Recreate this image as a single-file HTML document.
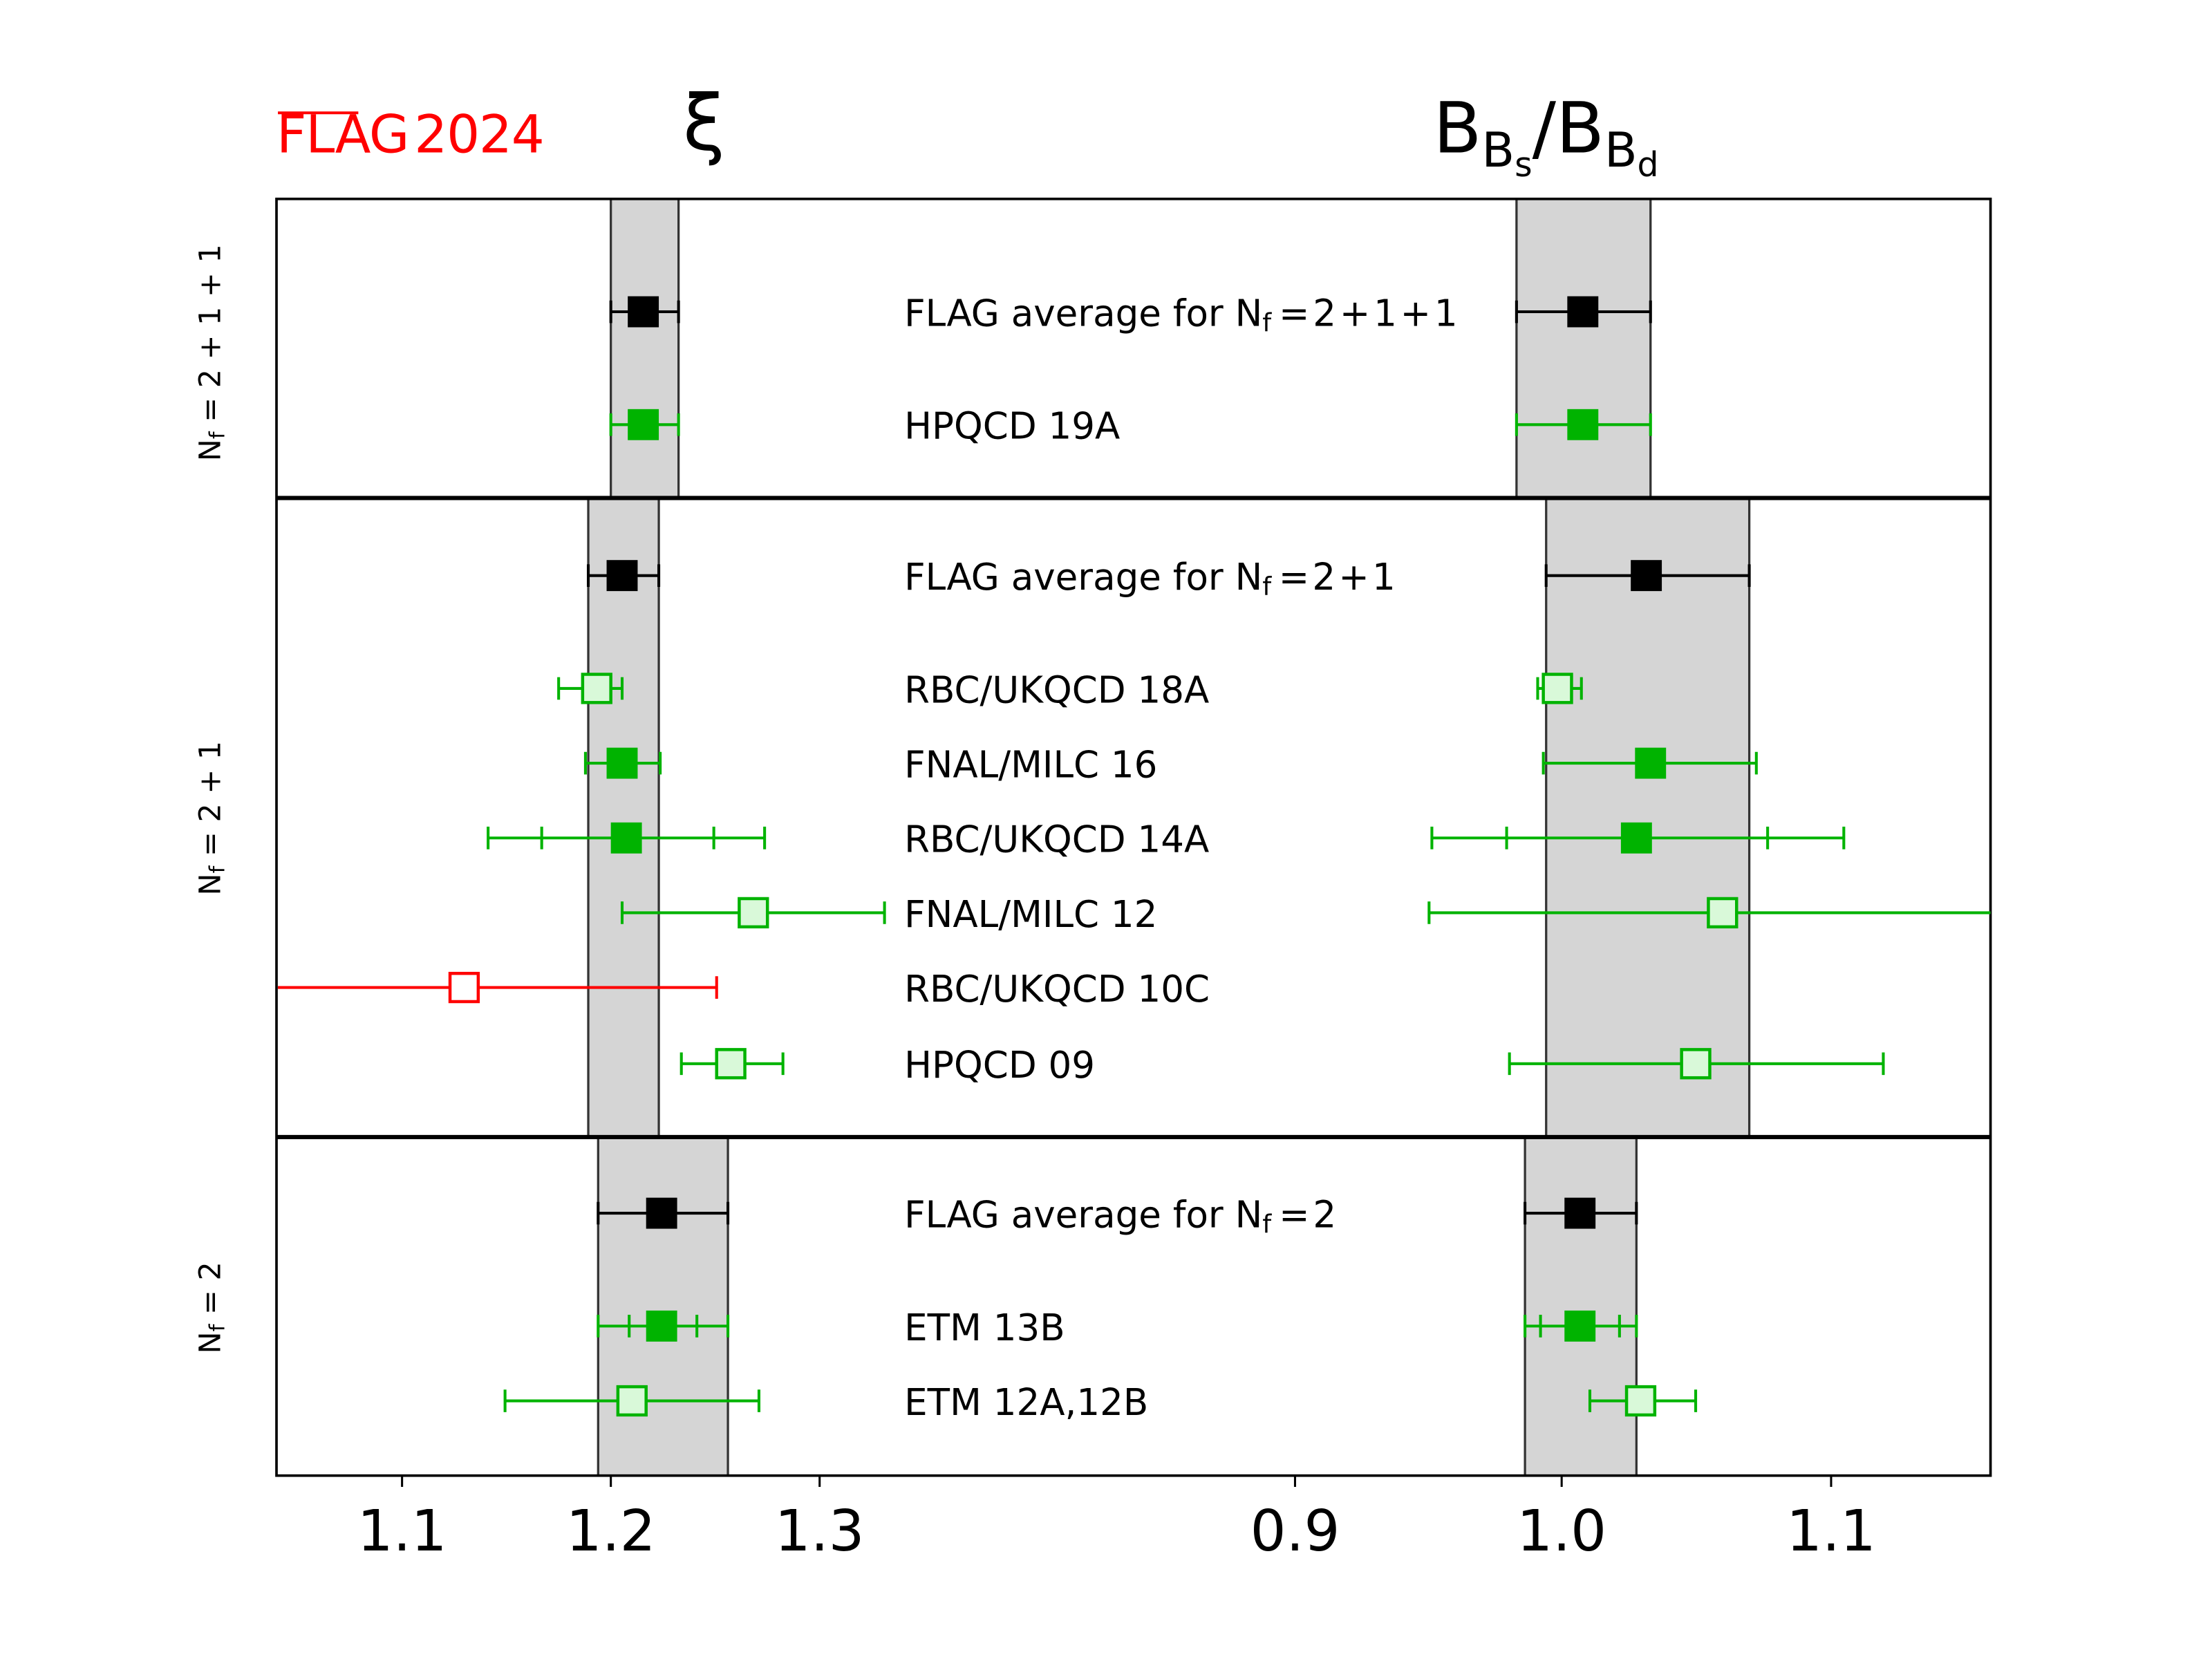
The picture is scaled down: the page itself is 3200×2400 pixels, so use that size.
<!DOCTYPE html>
<html><head><meta charset="utf-8"><style>html,body{margin:0;padding:0;background:#fff}svg{display:block}</style></head><body>
<svg width="3200" height="2400" viewBox="0 0 1568 1176" preserveAspectRatio="none" xmlns="http://www.w3.org/2000/svg" font-family="'DejaVu Sans','Liberation Sans',sans-serif">
<rect width="1568" height="1176" fill="#fff"/>
<g fill="#d5d5d5" stroke="#333" stroke-width="1.6">
<rect x="433" y="141" width="48" height="212"/>
<rect x="1075" y="141" width="95" height="212"/>
<rect x="417" y="353" width="50" height="453"/>
<rect x="1096" y="353" width="144" height="453"/>
<rect x="424" y="806" width="92" height="240"/>
<rect x="1081" y="806" width="79" height="240"/>
</g>
<rect x="196" y="141" width="1215" height="905" fill="none" stroke="#000" stroke-width="1.8"/>
<line x1="196" y1="353" x2="1411" y2="353" stroke="#000" stroke-width="3"/>
<line x1="196" y1="806" x2="1411" y2="806" stroke="#000" stroke-width="3"/>
<g stroke="#000" stroke-width="1.5">
<line x1="285" y1="1046" x2="285" y2="1054"/><line x1="433" y1="1046" x2="433" y2="1054"/><line x1="581" y1="1046" x2="581" y2="1054"/>
<line x1="918" y1="1046" x2="918" y2="1054"/><line x1="1107" y1="1046" x2="1107" y2="1054"/><line x1="1298" y1="1046" x2="1298" y2="1054"/>
</g>
<g font-size="40" text-anchor="middle" fill="#000">
<text x="285" y="1099">1.1</text><text x="433" y="1099">1.2</text><text x="581" y="1099">1.3</text>
<text x="918" y="1099">0.9</text><text x="1107" y="1099">1.0</text><text x="1298" y="1099">1.1</text>
</g>
<text x="196" y="108" font-size="37" fill="#ff0000" textLength="190">FLAG<tspan dx="4">2024</tspan></text>
<line x1="197" y1="80" x2="254" y2="80" stroke="#ff0000" stroke-width="2"/>
<text x="484" y="106" font-size="54" fill="#000">ξ</text>
<text x="1016" y="108" font-size="50" fill="#000">B<tspan font-size="34" dy="10">B</tspan><tspan font-size="24" dy="7">s</tspan><tspan dy="-17">/B</tspan><tspan font-size="34" dy="10">B</tspan><tspan font-size="24" dy="7">d</tspan></text>
<g font-size="21" fill="#000" text-anchor="middle">
<text transform="translate(156,250) rotate(-90)">N<tspan font-size="15" dy="3">f</tspan><tspan dy="-3"> = 2 + 1 + 1</tspan></text>
<text transform="translate(156,580) rotate(-90)">N<tspan font-size="15" dy="3">f</tspan><tspan dy="-3"> = 2 + 1</tspan></text>
<text transform="translate(156,927) rotate(-90)">N<tspan font-size="15" dy="3">f</tspan><tspan dy="-3"> = 2</tspan></text>
</g>
<g font-size="26" fill="#000">
<text x="641" y="231">FLAG average for N<tspan font-size="18" dy="4">f</tspan><tspan dy="-4" textLength="132"> = 2 + 1 + 1</tspan></text>
<text x="641" y="311">HPQCD 19A</text>
<text x="641" y="418">FLAG average for N<tspan font-size="18" dy="4">f</tspan><tspan dy="-4" textLength="88"> = 2 + 1</tspan></text>
<text x="641" y="498">RBC/UKQCD 18A</text>
<text x="641" y="551">FNAL/MILC 16</text>
<text x="641" y="604">RBC/UKQCD 14A</text>
<text x="641" y="657">FNAL/MILC 12</text>
<text x="641" y="710">RBC/UKQCD 10C</text>
<text x="641" y="764">HPQCD 09</text>
<text x="641" y="870">FLAG average for N<tspan font-size="18" dy="4">f</tspan><tspan dy="-4" textLength="46"> = 2</tspan></text>
<text x="641" y="950">ETM 13B</text>
<text x="641" y="1003">ETM 12A,12B</text>
</g>
<g stroke-width="2" fill="none">
<g stroke="#000">
<path d="M433 221H481M433 213V229M481 213V229"/>
<path d="M1075 221H1170M1075 213V229M1170 213V229"/>
<path d="M417 408H467M417 400V416M467 400V416"/>
<path d="M1096 408H1240M1096 400V416M1240 400V416"/>
<path d="M424 860H516M424 852V868M516 852V868"/>
<path d="M1081 860H1160M1081 852V868M1160 852V868"/>
</g>
<g stroke="#00b300">
<path d="M433 301H481M433 293V309M481 293V309"/>
<path d="M1075 301H1170M1075 293V309M1170 293V309"/>
<path d="M396 488H441M396 480V496M441 480V496"/>
<path d="M1090 488H1121M1090 480V496M1121 480V496"/>
<path d="M415 541H468M415 533V549M468 533V549"/>
<path d="M1094 541H1245M1094 533V549M1245 533V549"/>
<path d="M346 594H542M346 586V602M542 586V602M384 586V602M506 586V602"/>
<path d="M1015 594H1307M1015 586V602M1307 586V602M1068 586V602M1253 586V602"/>
<path d="M441 647H627M441 639V655M627 639V655"/>
<path d="M1013 647H1411M1013 639V655"/>
<path d="M483 754H555M483 746V762M555 746V762"/>
<path d="M1070 754H1335M1070 746V762M1335 746V762"/>
<path d="M424 940H516M424 932V948M516 932V948M446 932V948M494 932V948"/>
<path d="M1081 940H1160M1081 932V948M1160 932V948M1092 932V948M1148 932V948"/>
<path d="M358 993H538M358 985V1001M538 985V1001"/>
<path d="M1127 993H1202M1127 985V1001M1202 985V1001"/>
</g>
<path stroke="#ff0000" d="M197 700H508M508 692V708"/>
</g>
<g fill="#000">
<rect x="445" y="210" width="22" height="22"/>
<rect x="1111" y="210" width="22" height="22"/>
<rect x="430" y="397" width="22" height="22"/>
<rect x="1156" y="397" width="22" height="22"/>
<rect x="458" y="849" width="22" height="22"/>
<rect x="1109" y="849" width="22" height="22"/>
</g>
<g fill="#00b300">
<rect x="445" y="290" width="22" height="22"/>
<rect x="1111" y="290" width="22" height="22"/>
<rect x="430" y="530" width="22" height="22"/>
<rect x="1159" y="530" width="22" height="22"/>
<rect x="433" y="583" width="22" height="22"/>
<rect x="1149" y="583" width="22" height="22"/>
<rect x="458" y="929" width="22" height="22"/>
<rect x="1109" y="929" width="22" height="22"/>
</g>
<g fill="#d9f9d9" stroke="#00b300" stroke-width="2.2">
<rect x="413" y="478" width="20" height="20"/>
<rect x="1094" y="478" width="20" height="20"/>
<rect x="524" y="637" width="20" height="20"/>
<rect x="1211" y="637" width="20" height="20"/>
<rect x="508" y="744" width="20" height="20"/>
<rect x="1192" y="744" width="20" height="20"/>
<rect x="438" y="983" width="20" height="20"/>
<rect x="1153" y="983" width="20" height="20"/>
</g>
<rect x="319" y="690" width="20" height="20" fill="#fff" stroke="#ff0000" stroke-width="2.2"/>
</svg>
</body></html>
